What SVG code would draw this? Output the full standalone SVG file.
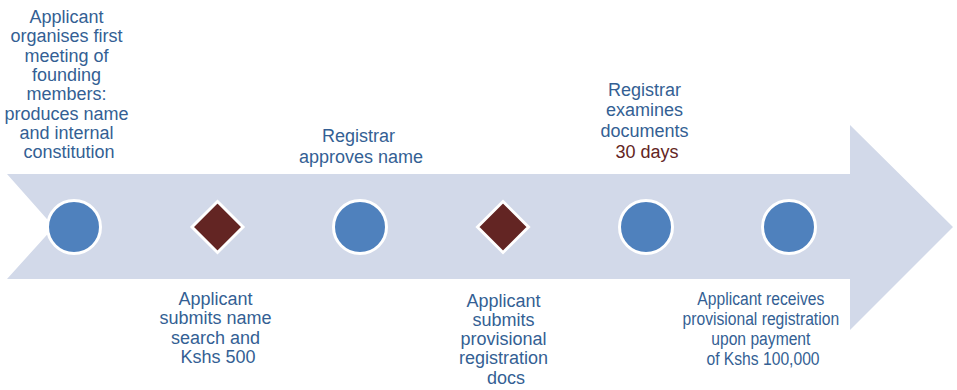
<svg xmlns="http://www.w3.org/2000/svg" width="957" height="390" viewBox="0 0 957 390">
<style>
  .lbl { font-family: "Liberation Sans", Arial, sans-serif; font-size: 18px; fill: #345F94; text-anchor: middle; }
  .red { fill: #632523; }
  .dot { fill: #4F81BD; stroke: #FFFFFF; stroke-width: 3; }
  .dia { fill: #632523; stroke: #FFFFFF; stroke-width: 3; }
</style>
<rect width="957" height="390" fill="#FFFFFF"/>
<g id="connectors">
  <path id="timeline-arrow" d="M7,174 L850,174 L850,125 L953,227 L850,330 L850,279 L7,279 L54,227 Z" fill="#D2D9E9"/>
</g>
<g id="node1">
  <circle class="dot" cx="74" cy="227" r="26.5"/>
  <text class="lbl">
    <tspan x="69" y="23">Applicant</tspan>
    <tspan x="69" y="42.3">organises first</tspan>
    <tspan x="69" y="61.6">meeting of</tspan>
    <tspan x="69" y="81">founding</tspan>
    <tspan x="69" y="100.2">members:</tspan>
    <tspan x="69" y="119.5">produces name</tspan>
    <tspan x="69" y="138.8">and internal</tspan>
    <tspan x="69" y="158">constitution</tspan>
  </text>
</g>
<g id="node2">
  <polygon class="dia" points="217.5,201.5 243,227 217.5,252.5 192,227"/>
  <text class="lbl">
    <tspan x="218" y="305">Applicant</tspan>
    <tspan x="218" y="324.3">submits name</tspan>
    <tspan x="218" y="343.6">search and</tspan>
    <tspan x="218" y="363">Kshs 500</tspan>
  </text>
</g>
<g id="node3">
  <circle class="dot" cx="360" cy="227" r="26.5"/>
  <text class="lbl">
    <tspan x="361" y="142">Registrar</tspan>
    <tspan x="361" y="163">approves name</tspan>
  </text>
</g>
<g id="node4">
  <polygon class="dia" points="503,201.5 528.5,227 503,252.5 477.5,227"/>
  <text class="lbl">
    <tspan x="506" y="306.5">Applicant</tspan>
    <tspan x="506" y="325.8">submits</tspan>
    <tspan x="506" y="345.1">provisional</tspan>
    <tspan x="506" y="364.4">registration</tspan>
    <tspan x="506" y="383.7">docs</tspan>
  </text>
</g>
<g id="node5">
  <circle class="dot" cx="646" cy="227" r="26.5"/>
  <text class="lbl">
    <tspan x="647" y="96">Registrar</tspan>
    <tspan x="647" y="116">examines</tspan>
    <tspan x="647" y="136.5">documents</tspan>
    <tspan x="647" y="158" class="red">30 days</tspan>
  </text>
</g>
<g id="node6">
  <circle class="dot" cx="789" cy="227" r="26.5"/>
  <g transform="translate(763,0) scale(0.87,1)">
    <text class="lbl">
      <tspan x="0" y="305">Applicant receives</tspan>
      <tspan x="0" y="325.5">provisional registration</tspan>
      <tspan x="0" y="345.5">upon payment</tspan>
      <tspan x="0" y="365">of Kshs 100,000</tspan>
    </text>
  </g>
</g>
</svg>
